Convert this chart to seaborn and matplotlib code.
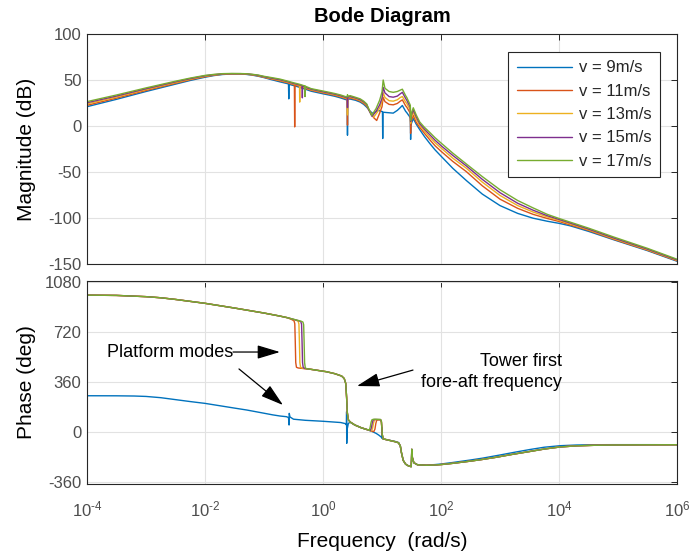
import matplotlib
matplotlib.use("Agg")
import math
import matplotlib.pyplot as plt
from matplotlib.ticker import NullLocator, FuncFormatter, FixedLocator
import pandas as pd
import seaborn as sns

# ---------------- data (log10 frequency [rad/s], value) ----------------
SPEEDS = ["v = 9m/s", "v = 11m/s", "v = 13m/s", "v = 15m/s", "v = 17m/s"]
COLORS = ["#0072BD", "#D95319", "#EDB120", "#7E2F8E", "#77AC30"]

MAG_9 = [(-4.0, 21), (-3.5, 29), (-3.0, 37.5), (-2.5, 45.5), (-2.25, 49.5), (-2.0, 53), (-1.85, 54.8),
         (-1.7, 56), (-1.55, 56.5), (-1.4, 56.5), (-1.3, 56.1), (-1.2, 55.3), (-1.1, 54.1), (-1.0, 52.6),
         (-0.87, 50.3), (-0.73, 48), (-0.6, 46), (-0.585, 45.6), (-0.58, 29.5), (-0.575, 45.3),
         (-0.5, 44), (-0.4, 42.1), (-0.3, 40), (-0.2, 37.8), (-0.1, 36.4), (0.0, 35), (0.1, 33.7),
         (0.2, 32.3), (0.3, 30.5), (0.38, 28.8), (0.41, 28.4), (0.415, -10), (0.42, 29.2), (0.46, 29.3),
         (0.55, 28), (0.63, 26), (0.69, 23.5), (0.74, 20.5), (0.80, 16), (0.85, 13.4), (0.93, 17),
         (1.0, 15.8), (1.008, 15.5), (1.012, -13.6), (1.016, 15), (1.1, 14.5), (1.19, 14), (1.26, 17),
         (1.31, 20), (1.345, 22.3), (1.40, 16), (1.42, 14.5), (1.47, 10), (1.48, 8), (1.485, -14.6),
         (1.49, 0), (1.50, 3), (1.53, 8), (1.58, 2), (1.64, -4), (1.72, -11.5), (1.81, -19),
         (1.9, -26), (2.01, -33.4), (2.2, -46), (2.43, -59.3), (2.7, -74), (3.0, -86.5), (3.3, -95),
         (3.56, -100.2), (3.8, -103.5), (4.0, -105.8), (4.19, -108.5), (4.5, -114.5), (4.92, -123.5),
         (5.5, -135.5), (6.0, -147)]
MAG_11 = [(-4.0, 22.5), (-3.5, 30.3), (-3.0, 38.6), (-2.5, 46.4), (-2.25, 50.3), (-2.0, 53.6), (-1.85, 55.2),
          (-1.7, 56.3), (-1.55, 56.7), (-1.4, 56.7), (-1.3, 56.3), (-1.2, 55.6), (-1.1, 54.5), (-1.0, 53),
          (-0.87, 51), (-0.73, 49), (-0.6, 47), (-0.5, 45), (-0.485, 44.8), (-0.48, -1), (-0.475, 44.5),
          (-0.4, 43.2), (-0.3, 41), (-0.2, 38.8), (-0.1, 37.4), (0.0, 36), (0.1, 34.7), (0.2, 33.3),
          (0.3, 31.5), (0.38, 29.8), (0.41, 29.4), (0.415, 1), (0.42, 30.2), (0.46, 30.3), (0.55, 29),
          (0.63, 27), (0.69, 24.6), (0.74, 21.8), (0.80, 15), (0.86, 9), (0.91, 6), (0.96, 14), (1.0, 21),
          (1.02, 31), (1.05, 26.5), (1.12, 23.5), (1.19, 23), (1.26, 24.5), (1.31, 27), (1.345, 28.4),
          (1.40, 22), (1.42, 20.5), (1.47, 15), (1.48, 13), (1.485, -8), (1.49, 3), (1.50, 6), (1.53, 11.5),
          (1.58, 4), (1.64, -1.5), (1.72, -8), (1.81, -15), (1.9, -21.5), (2.01, -28), (2.2, -38.5),
          (2.43, -49.6), (2.7, -65), (3.0, -79.5), (3.3, -89.5), (3.56, -96), (3.8, -100.5), (4.0, -103.8),
          (4.19, -107.5), (4.5, -113.5), (4.92, -123), (5.5, -135), (6.0, -146.5)]
MAG_13 = [(-4.0, 24), (-3.5, 31.5), (-3.0, 39.6), (-2.5, 47.2), (-2.25, 50.9), (-2.0, 54.1), (-1.85, 55.5),
          (-1.7, 56.5), (-1.55, 56.8), (-1.4, 56.8), (-1.3, 56.5), (-1.2, 55.8), (-1.1, 54.8), (-1.0, 53.3),
          (-0.87, 51.5), (-0.73, 49.7), (-0.6, 47.6), (-0.5, 45.7), (-0.4, 44.1), (-0.398, 44),
          (-0.395, 26), (-0.392, 43.9), (-0.3, 41.6), (-0.2, 39.4), (-0.1, 38), (0.0, 36.6), (0.1, 35.3),
          (0.2, 34), (0.3, 32.2), (0.38, 30.5), (0.41, 30.1), (0.415, 12), (0.42, 30.9), (0.46, 31.2),
          (0.55, 29.8), (0.63, 27.8), (0.69, 25.4), (0.74, 22.7), (0.80, 15), (0.86, 9.7), (0.92, 15),
          (0.97, 21), (1.0, 27), (1.02, 36), (1.05, 31), (1.12, 27.5), (1.19, 27), (1.26, 28.5), (1.31, 31),
          (1.345, 32), (1.40, 26), (1.42, 24.5), (1.47, 18.5), (1.48, 17), (1.485, 3), (1.49, 7),
          (1.50, 9.5), (1.53, 15), (1.58, 7.5), (1.64, 0.5), (1.72, -5.5), (1.81, -12), (1.9, -18.2),
          (2.01, -24.4), (2.2, -35), (2.43, -45.9), (2.7, -61), (3.0, -75.5), (3.3, -86.5), (3.56, -93.5),
          (3.8, -98.8), (4.0, -102.5), (4.19, -106.5), (4.5, -112.8), (4.92, -122.3), (5.5, -134.5),
          (6.0, -146)]
MAG_15 = [(-4.0, 25.3), (-3.5, 32.6), (-3.0, 40.5), (-2.5, 48), (-2.25, 51.5), (-2.0, 54.6), (-1.85, 55.8),
          (-1.7, 56.7), (-1.55, 56.9), (-1.4, 56.9), (-1.3, 56.7), (-1.2, 56), (-1.1, 55.1), (-1.0, 53.6),
          (-0.87, 52), (-0.73, 50.3), (-0.6, 48.2), (-0.5, 46.3), (-0.4, 44.7), (-0.353, 44),
          (-0.35, 30.6), (-0.347, 43.8), (-0.3, 42.2), (-0.2, 40), (-0.1, 38.6), (0.0, 37.2), (0.1, 35.9),
          (0.2, 34.6), (0.3, 32.9), (0.38, 31.2), (0.41, 30.8), (0.415, 20), (0.42, 31.5), (0.46, 32),
          (0.55, 30.5), (0.63, 28.6), (0.69, 26.2), (0.74, 23.4), (0.78, 17), (0.83, 10.5), (0.9, 16),
          (0.96, 23), (1.0, 30), (1.02, 42), (1.05, 36), (1.12, 32), (1.19, 31.3), (1.26, 32.5), (1.31, 35),
          (1.345, 36.6), (1.40, 30), (1.42, 28), (1.47, 21.5), (1.48, 20), (1.485, 5), (1.49, 9),
          (1.50, 12), (1.53, 17.6), (1.58, 10), (1.64, 2.5), (1.72, -3.5), (1.81, -9.5), (1.9, -15.5),
          (2.01, -21.9), (2.2, -32), (2.43, -43.4), (2.7, -58), (3.0, -72.5), (3.3, -84), (3.56, -91.5),
          (3.8, -97.5), (4.0, -101.5), (4.19, -105.5), (4.5, -112), (4.92, -121.5), (5.5, -133.8),
          (6.0, -145.5)]
MAG_17 = [(-4.0, 26.5), (-3.5, 33.7), (-3.0, 41.4), (-2.5, 48.7), (-2.25, 52.1), (-2.0, 55), (-1.85, 56.1),
          (-1.7, 56.9), (-1.55, 57.1), (-1.4, 57), (-1.3, 56.8), (-1.2, 56.2), (-1.1, 55.4), (-1.0, 54),
          (-0.87, 52.6), (-0.73, 51), (-0.6, 48.8), (-0.5, 47), (-0.4, 45.4), (-0.308, 43.5),
          (-0.305, 32), (-0.302, 43.3), (-0.2, 40.6), (-0.1, 39.3), (0.0, 38), (0.1, 36.7), (0.2, 35.3),
          (0.3, 33.7), (0.38, 32), (0.41, 31.6), (0.415, 34), (0.42, 32.2), (0.46, 33), (0.55, 31.2),
          (0.63, 29.5), (0.69, 27), (0.74, 24), (0.78, 18), (0.825, 11.5), (0.9, 19), (0.96, 28), (1.0, 37),
          (1.02, 50), (1.05, 41), (1.12, 37.5), (1.19, 36.6), (1.26, 37.5), (1.31, 39), (1.345, 40),
          (1.40, 33), (1.42, 31), (1.47, 24), (1.48, 22.5), (1.485, 6), (1.49, 11), (1.50, 14),
          (1.53, 19.8), (1.58, 12), (1.64, 4.3), (1.72, -1.5), (1.81, -7), (1.9, -12.8), (2.01, -19),
          (2.2, -29.5), (2.43, -41.3), (2.7, -55), (3.0, -69.3), (3.3, -81), (3.56, -89), (3.8, -96),
          (4.0, -100.5), (4.19, -104.5), (4.5, -111), (4.92, -120.5), (5.5, -133), (6.0, -144.8)]

# phase: pieces shared by the four higher wind speeds, plus the parts where they differ
PH_LOW_SHARED = [(-4.0, 986), (-3.5, 984), (-3.0, 975), (-2.75, 967), (-2.5, 955), (-2.25, 941),
                 (-2.0, 927), (-1.75, 910), (-1.5, 893), (-1.25, 875), (-1.0, 857), (-0.73, 835), (-0.6, 823)]
PH_DROP_11 = [(-0.52, 808), (-0.49, 800), (-0.478, 780), (-0.47, 650), (-0.462, 500), (-0.45, 466), (-0.42, 461)]
PH_DROP_13 = [(-0.45, 804), (-0.42, 797), (-0.408, 777), (-0.40, 650), (-0.392, 500), (-0.38, 466), (-0.35, 460)]
PH_DROP_15 = [(-0.40, 800), (-0.375, 794), (-0.363, 775), (-0.355, 650), (-0.347, 500), (-0.335, 464), (-0.31, 458)]
PH_DROP_17 = [(-0.37, 798), (-0.34, 792), (-0.328, 773), (-0.32, 650), (-0.312, 500), (-0.30, 462), (-0.28, 456)]
PH_MID_SHARED = [(-0.2, 451), (0.06, 434), (0.2, 420), (0.316, 403), (0.36, 385), (0.385, 350), (0.40, 250),
                 (0.412, 140), (0.43, 88), (0.46, 72), (0.54, 50), (0.65, 30), (0.77, 14)]
PH_BUMP_11 = [(0.86, 2), (0.88, 20), (0.895, 60), (0.91, 84), (0.94, 88), (0.975, 87), (0.99, 70), (1.005, -20), (1.02, -50)]
PH_BUMP_13 = [(0.82, 8), (0.84, 25), (0.855, 60), (0.87, 85), (0.9, 89), (0.975, 88), (0.99, 72), (1.005, -20), (1.02, -50)]
PH_BUMP_15 = [(0.80, 10), (0.82, 30), (0.835, 65), (0.85, 87), (0.88, 90), (0.975, 89), (0.99, 74), (1.005, -20), (1.02, -50)]
PH_BUMP_17 = [(0.785, 12), (0.80, 35), (0.815, 70), (0.83, 88), (0.86, 92), (0.975, 90), (0.99, 76), (1.005, -20), (1.02, -50)]
PH_HIGH_SHARED = [(1.05, -53), (1.15, -63), (1.22, -70), (1.28, -78), (1.31, -100), (1.33, -150), (1.36, -205),
                  (1.40, -232), (1.45, -245), (1.495, -250), (1.50, -200), (1.505, -125), (1.515, -185),
                  (1.54, -222), (1.6, -236), (1.75, -240), (1.9, -238), (2.0, -235), (2.2, -226),
                  (2.5, -210), (2.7, -198), (2.94, -182), (3.2, -162), (3.5, -141), (3.75, -123),
                  (4.02, -108), (4.3, -100), (4.6, -96), (4.92, -94), (5.5, -92.5), (6.0, -92)]
PH_9 = [(-4.0, 261), (-3.5, 260.5), (-3.2, 259), (-3.0, 256), (-2.75, 247), (-2.5, 233), (-2.25, 219),
        (-2.0, 206), (-1.75, 189), (-1.5, 172), (-1.29, 158), (-1.0, 135), (-0.85, 123), (-0.73, 115),
        (-0.62, 110), (-0.585, 104), (-0.575, 50), (-0.572, 134), (-0.56, 108), (-0.5, 92), (-0.3, 84),
        (0.0, 77), (0.3, 68), (0.38, 60), (0.397, 50), (0.40, 146), (0.402, -82), (0.41, 20), (0.43, 62),
        (0.46, 70), (0.54, 50), (0.65, 30), (0.77, 14), (0.85, 0), (0.9, -10), (0.95, -24), (0.99, -38),
        (0.998, -44), (1.0, 30), (1.008, -48), (1.03, -52), (1.05, -53), (1.15, -62), (1.22, -68),
        (1.28, -76), (1.31, -100), (1.33, -150), (1.36, -205), (1.40, -232), (1.45, -245), (1.495, -250),
        (1.50, -200), (1.505, -125), (1.515, -185), (1.54, -222), (1.6, -236), (1.75, -239), (1.9, -235),
        (2.0, -231), (2.2, -220), (2.5, -202), (2.7, -189), (3.0, -166), (3.25, -146), (3.5, -127),
        (3.75, -110), (4.02, -99), (4.3, -94), (4.6, -92), (4.92, -91.5), (5.5, -91.5), (6.0, -92)]
PH_11 = PH_LOW_SHARED + PH_DROP_11 + PH_MID_SHARED + PH_BUMP_11 + PH_HIGH_SHARED
PH_13 = PH_LOW_SHARED + PH_DROP_13 + PH_MID_SHARED + PH_BUMP_13 + PH_HIGH_SHARED
PH_15 = PH_LOW_SHARED + PH_DROP_15 + PH_MID_SHARED + PH_BUMP_15 + PH_HIGH_SHARED
PH_17 = PH_LOW_SHARED + PH_DROP_17 + PH_MID_SHARED + PH_BUMP_17 + PH_HIGH_SHARED

MAG_TICKS = [-150, -100, -50, 0, 50, 100]
PHASE_TICKS = [-360, 0, 360, 720, 1080]
FREQ_TICKS = [1e-4, 1e-2, 1e0, 1e2, 1e4, 1e6]

# ---------------- style ----------------
sns.set_theme(style="white")
plt.rcParams.update({
    "font.family": ["Liberation Sans", "DejaVu Sans"],
    "mathtext.fontset": "custom",
    "mathtext.rm": "Liberation Sans",
    "mathtext.it": "Liberation Sans:italic",
    "mathtext.bf": "Liberation Sans:bold",
    "mathtext.default": "regular",
    "axes.unicode_minus": False,
})


def frame(series, value_name):
    rows = []
    for label, pts in zip(SPEEDS, series):
        for lf, v in pts:
            rows.append((label, 10.0 ** lf, v))
    return pd.DataFrame(rows, columns=["speed", "freq", value_name])


def pow10_label(v, pos):
    e = int(round(math.log10(v)))
    if e < 0:
        return r"$10^{\text{-}%d}$" % (-e)
    return r"$10^{%d}$" % e


df_mag = frame([MAG_9, MAG_11, MAG_13, MAG_15, MAG_17], "mag")
df_ph = frame([PH_9, PH_11, PH_13, PH_15, PH_17], "phase")

W, H = 692, 552
fig = plt.figure(figsize=(W / 100, H / 100), dpi=100)
ax1 = fig.add_axes([87 / W, 1 - 264 / H, 590 / W, 230 / H])
ax2 = fig.add_axes([87 / W, 1 - 484 / H, 590 / W, 203.3 / H])

AX_COL = "#262626"
TICK_COL = "#4d4d4d"
for ax in (ax1, ax2):
    ax.set_xscale("log")

sns.lineplot(data=df_mag, x="freq", y="mag", hue="speed", hue_order=SPEEDS, palette=COLORS,
             sort=False, estimator=None, linewidth=1.0, legend=False, ax=ax1)
sns.lineplot(data=df_ph, x="freq", y="phase", hue="speed", hue_order=SPEEDS, palette=COLORS,
             sort=False, estimator=None, linewidth=1.0, legend=False, ax=ax2)

for ax in (ax1, ax2):
    ax.set_xlim(1e-4, 1e6)
    ax.xaxis.set_major_locator(FixedLocator(FREQ_TICKS))
    ax.xaxis.set_major_formatter(FuncFormatter(pow10_label))
    ax.xaxis.set_minor_locator(NullLocator())
    ax.yaxis.set_minor_locator(NullLocator())
    ax.grid(True, which="major", color="#e2e2e2", linewidth=0.8)
    ax.set_axisbelow(True)
    ax.tick_params(direction="in", top=True, right=True, length=4, width=0.7,
                   color=AX_COL, labelcolor=TICK_COL, labelsize=12, pad=4)
    for s in ax.spines.values():
        s.set_color(AX_COL)
        s.set_linewidth(0.8)

ax2.tick_params(axis="x", pad=11)

ax1.set_ylim(-150, 100)
ax1.set_yticks(MAG_TICKS)
ax1.tick_params(labelbottom=False)
ax1.set_xlabel("")
ax1.set_ylabel("Magnitude (dB)", fontsize=15, color="black")
ax1.yaxis.set_label_coords(-0.087, 0.5)

ax2.set_ylim(-375, 1090)
ax2.set_yticks(PHASE_TICKS)
ax2.set_ylabel("Phase (deg)", fontsize=15, color="black")
ax2.yaxis.set_label_coords(-0.087, 0.5)
ax2.set_xlabel("Frequency  (rad/s)", fontsize=15, color="black")
ax2.xaxis.set_label_coords(0.5, -0.235)

fig.text(382 / W, 1 - 16 / H, "Bode Diagram", ha="center", va="center",
         fontsize=14.5, fontweight="bold", color="black")

leg = ax1.legend(ax1.lines[:5], SPEEDS, loc="upper right",
                 bbox_to_anchor=(660 / W, 1 - 52 / H), bbox_transform=fig.transFigure,
                 borderaxespad=0, fontsize=12, frameon=True, fancybox=False,
                 edgecolor=AX_COL, framealpha=1, handlelength=3.3, handletextpad=0.45,
                 labelspacing=0.5, borderpad=0.5)
leg.get_frame().set_linewidth(0.8)

ARROW = dict(arrowstyle="-|>,head_length=1.4,head_width=0.42", color="black", lw=0.9,
             shrinkA=0, shrinkB=0, mutation_scale=10)
ax2.text(10 ** -3.66, 576, "Platform modes", fontsize=13, ha="left", va="center", color="black")
ax2.annotate("", xy=(10 ** -0.73, 576), xytext=(10 ** -1.525, 576), arrowprops=ARROW)
ax2.annotate("", xy=(10 ** -0.678, 194), xytext=(10 ** -1.424, 454), arrowprops=ARROW)
ax2.text(10 ** 4.05, 432, "Tower first\nfore-aft frequency", fontsize=13, ha="right", va="center",
         multialignment="right", linespacing=1.35, color="black")
ax2.annotate("", xy=(10 ** 0.576, 331), xytext=(10 ** 1.525, 446), arrowprops=ARROW)

fig.savefig("out.png", dpi=100)
